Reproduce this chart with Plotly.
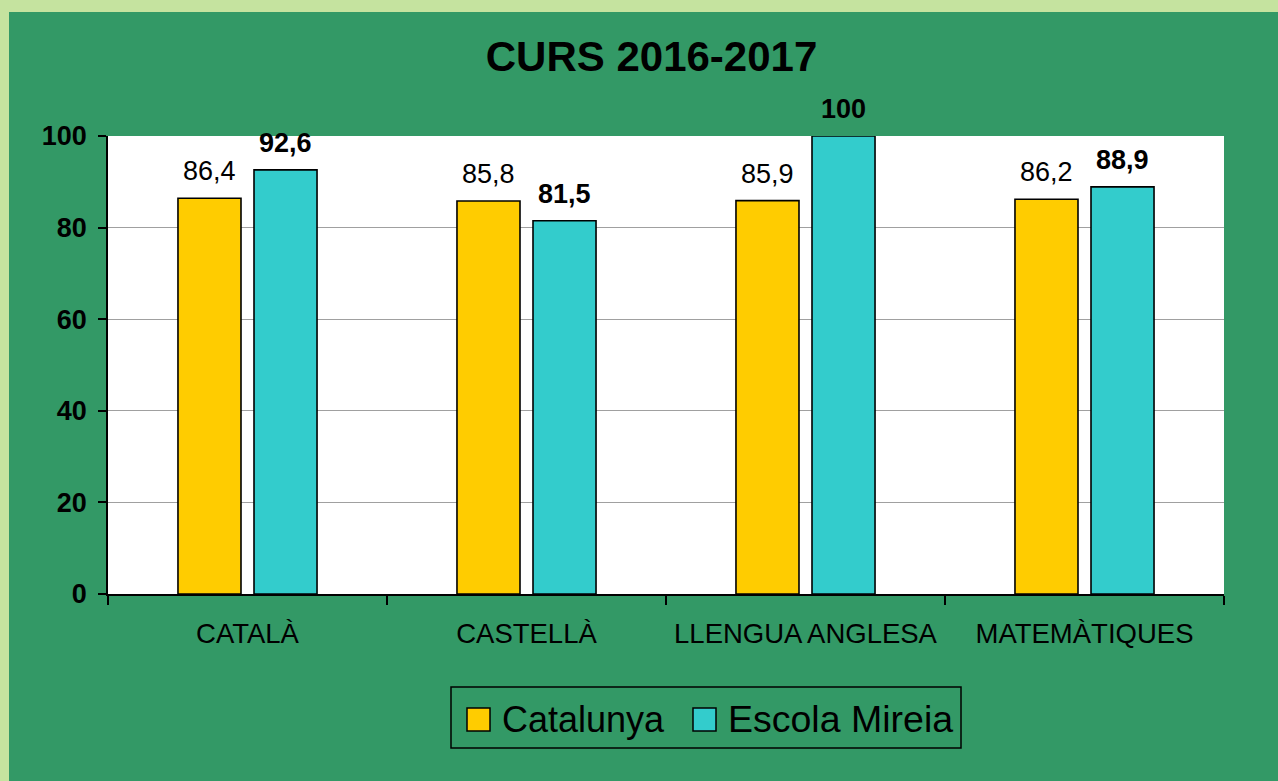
import plotly.graph_objects as go

categories = ["CATALÀ", "CASTELLÀ", "LLENGUA ANGLESA", "MATEMÀTIQUES"]
catalunya = [86.4, 85.8, 85.9, 86.2]
escola = [92.6, 81.5, 100, 88.9]
series_names = ["Catalunya", "Escola Mireia"]
y_ticks = [0, 20, 40, 60, 80, 100]
title_text = "CURS 2016-2017"

YELLOW = "#ffcc00"
CYAN = "#33cccc"
DARK = "#339966"
LIGHT = "#c5e39f"
FONT = "Liberation Sans, Arial, sans-serif"

W, H = 1278, 781
L, R, T, B = 108, 1224, 136, 594


def px(x):
    return (x - L) / (R - L)


def py(y):
    return (B - y) / (B - T)


def fmt(v):
    return ("%g" % v).replace(".", ",")


fig = go.Figure()
fig.add_trace(go.Bar(x=categories, y=catalunya, name=series_names[0],
                     marker=dict(color=YELLOW, line=dict(color="black", width=1.6)),
                     showlegend=False))
fig.add_trace(go.Bar(x=categories, y=escola, name=series_names[1],
                     marker=dict(color=CYAN, line=dict(color="black", width=1.6)),
                     showlegend=False))

annotations = []
for cat, v in zip(categories, catalunya):
    annotations.append(dict(x=cat, y=v, xref="x", yref="y", text=fmt(v), showarrow=False,
                            xshift=-38, yshift=10, yanchor="bottom",
                            font=dict(family=FONT, size=27, color="black")))
for cat, v in zip(categories, escola):
    annotations.append(dict(x=cat, y=v, xref="x", yref="y", text="<b>" + fmt(v) + "</b>",
                            showarrow=False, xshift=38, yshift=10, yanchor="bottom",
                            font=dict(family=FONT, size=27, color="black")))

# legend (manual, so the swatches can match the reference size)
annotations.append(dict(x=px(500), y=py(719), xref="paper", yref="paper", text=series_names[0],
                        showarrow=False, xanchor="left", yanchor="middle",
                        font=dict(family=FONT, size=36, color="black")))
annotations.append(dict(x=px(726), y=py(719), xref="paper", yref="paper", text=series_names[1],
                        showarrow=False, xanchor="left", yanchor="middle",
                        font=dict(family=FONT, size=37.5, color="black")))

shapes = [
    dict(type="rect", xref="paper", yref="paper", x0=px(9), x1=px(W + 10), y0=py(H + 10), y1=py(12),
         fillcolor=DARK, line=dict(width=0), layer="below"),
    dict(type="rect", xref="paper", yref="paper", x0=0, x1=1, y0=0, y1=1,
         fillcolor="white", line=dict(width=0), layer="below"),
    dict(type="rect", xref="paper", yref="paper", x0=px(451), x1=px(961), y0=py(748), y1=py(687),
         fillcolor="rgba(0,0,0,0)", line=dict(color="black", width=1.5), layer="above"),
    dict(type="rect", xref="paper", yref="paper", x0=px(467), x1=px(490), y0=py(731), y1=py(708),
         fillcolor=YELLOW, line=dict(color="black", width=1.5), layer="above"),
    dict(type="rect", xref="paper", yref="paper", x0=px(693), x1=px(716), y0=py(731), y1=py(708),
         fillcolor=CYAN, line=dict(color="black", width=1.5), layer="above"),
]

fig.update_layout(
    width=W, height=H,
    margin=dict(l=L, r=W - R, t=T, b=H - B, pad=0),
    paper_bgcolor=LIGHT,
    plot_bgcolor="rgba(0,0,0,0)",
    barmode="group",
    bargap=0.455,
    bargroupgap=0.171,
    showlegend=False,
    font=dict(family=FONT, color="black"),
    title=dict(text="<b>" + title_text + "</b>", x=px(651.5), xref="paper", xanchor="center",
               y=1 - 56 / H, yref="container", yanchor="middle",
               font=dict(family=FONT, size=42, color="black")),
    annotations=annotations,
    shapes=shapes,
    xaxis=dict(
        type="category", range=[-0.5, len(categories) - 0.5],
        showline=True, linecolor="black", linewidth=1.5,
        ticks="outside", tickson="boundaries", ticklen=9, tickcolor="black", tickwidth=1.5,
        tickfont=dict(family=FONT, size=27.5, color="black"),
        ticklabelstandoff=14,
        showgrid=False, zeroline=False, fixedrange=True,
    ),
    yaxis=dict(
        range=[0, 100], tickvals=y_ticks, ticktext=[str(t) for t in y_ticks],
        showline=True, linecolor="black", linewidth=1.5,
        ticks="outside", ticklen=8, tickcolor="black", tickwidth=1.5,
        tickfont=dict(family=FONT, size=27, color="black", weight="bold"),
        ticklabelstandoff=6,
        showgrid=True, gridcolor="#a0a0a0", gridwidth=1.2,
        zeroline=False, fixedrange=True,
    ),
)

fig.write_html(
    "out.html",
    config={"displayModeBar": False},
    post_script="document.body.style.margin='0';document.body.style.overflow='hidden';",
)
